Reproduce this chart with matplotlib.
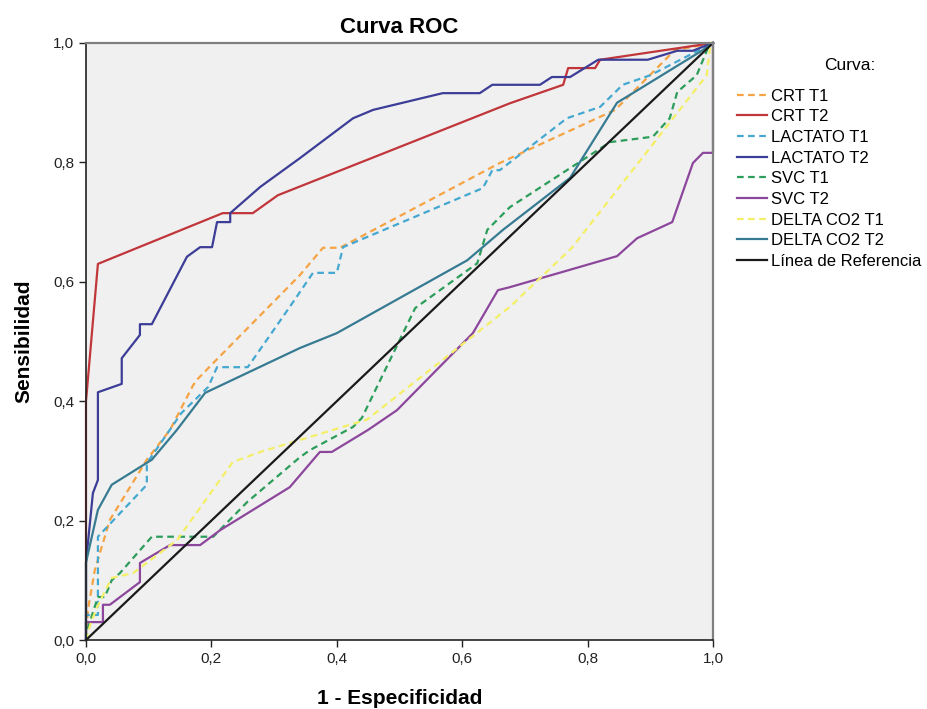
import matplotlib
matplotlib.use("Agg")
import matplotlib.pyplot as plt
from matplotlib.ticker import FuncFormatter

plt.rcParams.update({
    "font.family": ["Liberation Sans", "DejaVu Sans"],
    "font.size": 11,
})

# ----------------------------------------------------------------------
# ROC curves (x = 1 - especificidad, y = sensibilidad)
# ----------------------------------------------------------------------
crt_t1_x = [0.0, 0.003, 0.014, 0.038, 0.097, 0.134, 0.171, 0.177, 0.203,
            0.341, 0.378, 0.405, 0.660, 0.844, 0.884, 0.939, 1.0]
crt_t1_y = [0.0, 0.050, 0.117, 0.201, 0.302, 0.352, 0.427, 0.436, 0.464,
            0.611, 0.657, 0.657, 0.799, 0.888, 0.930, 0.988, 1.0]

crt_t2_x = [0.0, 0.0, 0.019, 0.218, 0.266, 0.306, 0.676, 0.761, 0.769,
            0.812, 0.820, 1.0]
crt_t2_y = [0.0, 0.400, 0.630, 0.715, 0.715, 0.745, 0.899, 0.930, 0.958,
            0.958, 0.972, 1.0]

lact_t1_x = [0.0, 0.0, 0.019, 0.019, 0.097, 0.097, 0.152, 0.195, 0.209,
             0.258, 0.325, 0.362, 0.400, 0.410, 0.633, 0.648, 0.660,
             0.767, 0.820, 0.856, 0.900, 1.0]
lact_t1_y = [0.0, 0.042, 0.042, 0.173, 0.260, 0.296, 0.380, 0.424, 0.457,
             0.457, 0.558, 0.615, 0.615, 0.658, 0.757, 0.787, 0.787,
             0.874, 0.893, 0.930, 0.946, 1.0]

lact_t2_x = [0.0, 0.0, 0.011, 0.019, 0.019, 0.057, 0.057, 0.086, 0.086,
             0.105, 0.161, 0.182, 0.201, 0.209, 0.230, 0.230, 0.278,
             0.341, 0.426, 0.458, 0.569, 0.628, 0.648, 0.724, 0.743,
             0.772, 0.817, 0.896, 0.943, 0.968, 0.982, 1.0]
lact_t2_y = [0.0, 0.130, 0.246, 0.268, 0.415, 0.429, 0.472, 0.511, 0.529,
             0.529, 0.642, 0.658, 0.658, 0.700, 0.700, 0.715, 0.759,
             0.807, 0.874, 0.888, 0.916, 0.916, 0.930, 0.930, 0.943,
             0.943, 0.972, 0.972, 0.987, 0.987, 0.993, 1.0]

svc_t1_x = [0.0, 0.002, 0.019, 0.030, 0.041, 0.054, 0.105, 0.203, 0.257,
            0.341, 0.357, 0.426, 0.440, 0.525, 0.624, 0.640, 0.676,
            0.836, 0.904, 0.931, 0.943, 0.974, 0.992, 1.0]
svc_t1_y = [0.0, 0.017, 0.072, 0.072, 0.100, 0.112, 0.173, 0.173, 0.231,
            0.306, 0.318, 0.357, 0.372, 0.556, 0.631, 0.687, 0.725,
            0.834, 0.843, 0.874, 0.918, 0.946, 0.992, 1.0]

svc_t2_x = [0.0, 0.0, 0.027, 0.027, 0.038, 0.086, 0.086, 0.134, 0.182,
            0.214, 0.325, 0.373, 0.392, 0.450, 0.496, 0.617, 0.657,
            0.676, 0.847, 0.879, 0.935, 0.968, 0.984, 1.0, 1.0]
svc_t2_y = [0.0, 0.030, 0.030, 0.059, 0.059, 0.097, 0.129, 0.159, 0.159,
            0.184, 0.256, 0.315, 0.315, 0.352, 0.385, 0.514, 0.586,
            0.591, 0.643, 0.673, 0.700, 0.799, 0.816, 0.816, 1.0]

dco2_t1_x = [0.0, 0.008, 0.020, 0.041, 0.075, 0.145, 0.234, 0.278, 0.341,
             0.394, 0.448, 0.676, 0.775, 0.990, 0.995, 1.0]
dco2_t1_y = [0.0, 0.030, 0.060, 0.104, 0.112, 0.167, 0.298, 0.315, 0.335,
             0.352, 0.369, 0.558, 0.657, 0.946, 0.990, 1.0]

dco2_t2_x = [0.0, 0.0, 0.019, 0.041, 0.105, 0.145, 0.190, 0.341, 0.400,
             0.608, 0.665, 0.772, 0.847, 0.872, 0.979, 1.0]
dco2_t2_y = [0.0, 0.130, 0.218, 0.260, 0.302, 0.352, 0.414, 0.489, 0.514,
             0.636, 0.687, 0.774, 0.900, 0.916, 0.985, 1.0]

ref_x = [0.0, 1.0]
ref_y = [0.0, 1.0]

labels = ["CRT T1", "CRT T2", "LACTATO T1", "LACTATO T2", "SVC T1",
          "SVC T2", "DELTA CO2 T1", "DELTA CO2 T2", "Línea de Referencia"]

# ----------------------------------------------------------------------
dash = (0, (3, 2))
curves = [
    (crt_t1_x, crt_t1_y, "#F5A343", dash),
    (crt_t2_x, crt_t2_y, "#C0363A", "-"),
    (lact_t1_x, lact_t1_y, "#45A8D0", dash),
    (lact_t2_x, lact_t2_y, "#3C3D96", "-"),
    (svc_t1_x, svc_t1_y, "#2C9D5A", dash),
    (svc_t2_x, svc_t2_y, "#8C479C", "-"),
    (dco2_t1_x, dco2_t1_y, "#F4EF66", dash),
    (dco2_t2_x, dco2_t2_y, "#377B92", "-"),
    (ref_x, ref_y, "#1A1A1A", "-"),
]

W, H = 928, 709
fig = plt.figure(figsize=(W / 100, H / 100), dpi=100)
ax = fig.add_axes([86 / W, 1 - 640 / H, 627 / W, 597 / H])
ax.set_facecolor("#F0F0F0")

for (xs, ys, c, ls), lab in zip(curves, labels):
    ax.plot(xs, ys, color=c, ls=ls, lw=1.6, label=lab, clip_on=False)

ax.set_xlim(0, 1)
ax.set_ylim(0, 1)
ticks = [0.0, 0.2, 0.4, 0.6, 0.8, 1.0]
ax.set_xticks(ticks)
ax.set_yticks(ticks)
fmt = FuncFormatter(lambda v, p: f"{v:.1f}".replace(".", ","))
ax.xaxis.set_major_formatter(fmt)
ax.yaxis.set_major_formatter(fmt)
ax.tick_params(direction="out", length=5, width=1, colors="#222222",
               labelsize=11)

for side in ["left", "bottom"]:
    ax.spines[side].set_color("#222222")
    ax.spines[side].set_linewidth(1.2)
for side in ["top", "right"]:
    ax.spines[side].set_color("#808080")
    ax.spines[side].set_linewidth(1.6)

ax.set_title("Curva ROC", fontsize=16, fontweight="bold", pad=7)
ax.set_xlabel("1 - Especificidad", fontsize=15, fontweight="bold",
              labelpad=17)
ax.set_ylabel("Sensibilidad", fontsize=15, fontweight="bold", labelpad=14)

fig.text(850 / W, 1 - 65 / H, "Curva:", ha="center", va="center",
         fontsize=12.5)
fig.legend(loc="upper left", bbox_to_anchor=(730 / W, 1 - 82 / H),
           frameon=False, fontsize=12, handlelength=1.85,
           handletextpad=0.2, labelspacing=0.34, borderaxespad=0)

fig.savefig("out.png", dpi=100)
